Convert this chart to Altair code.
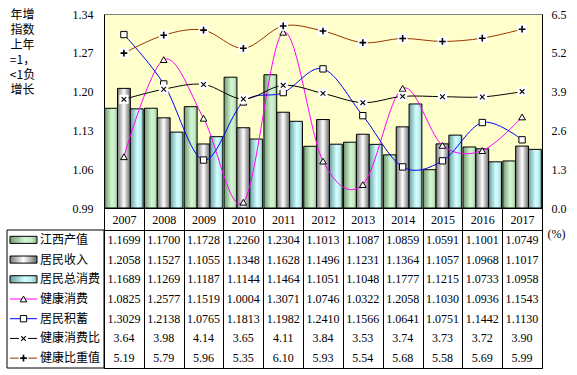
import altair as alt
import pandas as pd

# ---------------- data ----------------
years = ["2007", "2008", "2009", "2010", "2011", "2012", "2013", "2014", "2015", "2016", "2017"]
jiangxi_output = [1.1699, 1.1700, 1.1728, 1.2260, 1.2304, 1.1013, 1.1087, 1.0859, 1.0591, 1.1001, 1.0749]
resident_income = [1.2058, 1.1527, 1.1055, 1.1348, 1.1628, 1.1496, 1.1231, 1.1364, 1.1057, 1.0968, 1.1017]
resident_consumption = [1.1689, 1.1269, 1.1187, 1.1144, 1.1464, 1.1051, 1.1048, 1.1777, 1.1215, 1.0733, 1.0958]
health_consumption = [1.0825, 1.2577, 1.1519, 1.0004, 1.3071, 1.0746, 1.0322, 1.2058, 1.1030, 1.0936, 1.1543]
resident_savings = [1.3029, 1.2138, 1.0765, 1.1813, 1.1982, 1.2410, 1.1566, 1.0641, 1.0751, 1.1442, 1.1130]
health_ratio = [3.64, 3.98, 4.14, 3.65, 4.11, 3.84, 3.53, 3.74, 3.73, 3.72, 3.90]
health_weight = [5.19, 5.79, 5.96, 5.35, 6.10, 5.93, 5.54, 5.68, 5.58, 5.69, 5.99]

series_names = ["江西产值", "居民收入", "居民总消费", "健康消费", "居民积蓄", "健康消费比", "健康比重值"]
decimals = [4, 4, 4, 4, 4, 2, 2]
left_ticks = [0.99, 1.06, 1.13, 1.20, 1.27, 1.34]
right_ticks = [0.0, 1.3, 2.6, 3.9, 5.2, 6.5]
left_title = ["年增", "指数", "上年", "=1，", "<1负", "增长"]
right_title = "(%)"

all_values = [jiangxi_output, resident_income, resident_consumption,
              health_consumption, resident_savings, health_ratio, health_weight]

rows = []
for i, (s, vals, d) in enumerate(zip(series_names, all_values, decimals)):
    for y, v in zip(years, vals):
        rows.append({"year": y, "series": s, "idx": i, "value": v, "label": f"{v:.{d}f}"})
long = pd.DataFrame(rows)
legend_df = pd.DataFrame({"series": series_names, "idx": list(range(len(series_names)))})

# ---------------- styles ----------------
W, H = 438, 194
TH = 138
YEAR_ROW = 22
FONT_NUM = "Liberation Serif"
FONT_CJK = "Noto Sans CJK SC"


def grad(stops):
    return alt.Gradient(gradient="linear", x1=0, x2=1, y1=0, y2=0,
                        stops=[alt.GradientStop(color=c, offset=o) for o, c in stops])


bar_fills = {
    "江西产值": grad([(0, "#6f9c6f"), (0.55, "#d4f5d4"), (0.8, "#c4eac4"), (1, "#88b488")]),
    "居民收入": grad([(0, "#7a7a7a"), (0.5, "#ffffff"), (1, "#6a6a6a")]),
    "居民总消费": grad([(0, "#6a9e9e"), (0.55, "#d2ffff"), (0.8, "#c0eeee"), (1, "#86b8b8")]),
}
line_colors = {"健康消费": "#FF00FF", "居民积蓄": "#0000FF", "健康消费比": "#000000", "健康比重值": "#993300"}
X_PATH = "M-1,-1L1,1M1,-1L-1,1"
PLUS_PATH = "M-1,0L1,0M0,-1L0,1"

# ---------------- top chart ----------------
x_scale = alt.Scale(domain=years, paddingInner=0, paddingOuter=0)
x_axis = alt.Axis(orient="bottom", title=None, tickBand="extent", tickSize=YEAR_ROW, tickColor="black",
                  tickWidth=1, domainColor="black", labelPadding=-11, labelBaseline="middle",
                  labelFont=FONT_NUM, labelFontSize=12, labelColor="black", labelAngle=0, grid=False)
X = alt.X("year:N", scale=x_scale, axis=x_axis)

yl_scale = alt.Scale(domain=[0.99, 1.34], zero=False, nice=False, clamp=True)
yr_scale = alt.Scale(domain=[0, 6.5], zero=False, nice=False)

left_axis = alt.Axis(orient="left", values=left_ticks, format=".2f", ticks=False, domainColor="black",
                     labelPadding=11, labelFont=FONT_NUM, labelFontSize=12, labelColor="black", grid=False,
                     title=left_title, titleAngle=0, titleAlign="center", titleBaseline="top",
                     titleX=-82, titleY=-5, titleFont=FONT_CJK, titleFontSize=12,
                     titleFontWeight="normal", titleLineHeight=15, titleColor="black")
right_axis = alt.Axis(orient="right", values=right_ticks, format=".1f", ticks=False, domainColor="black",
                      labelPadding=9, labelFont=FONT_NUM, labelFontSize=12, labelColor="black",
                      grid=False, title=None)

base = alt.Chart(long)
layers = []
for k, name in enumerate(series_names[:3]):
    layers.append(
        base.transform_filter(alt.datum.series == name)
        .mark_bar(fill=bar_fills[name], stroke="black", strokeWidth=1)
        .encode(x=X,
                xOffset=alt.XOffset("series:N", scale=alt.Scale(domain=series_names[:3], paddingInner=0,
                                                                paddingOuter=0.05)),
                y=alt.Y("value:Q", scale=yl_scale, axis=left_axis if k == 0 else None))
    )

axis_side = {"健康消费": yl_scale, "居民积蓄": yl_scale, "健康消费比": yr_scale, "健康比重值": yr_scale}
for name in series_names[3:]:
    ax = right_axis if name == "健康消费比" else None
    layers.append(
        base.transform_filter(alt.datum.series == name)
        .mark_line(color=line_colors[name], strokeWidth=1, interpolate="cardinal")
        .encode(x=X, y=alt.Y("value:Q", scale=axis_side[name], axis=ax))
    )


def markers(chart, name, xenc=None, yenc=None):
    out = []
    f = chart.transform_filter(alt.datum.series == name)
    if name == "健康消费":
        specs = [dict(shape="triangle-up", filled=True, fill="white", stroke="black", strokeWidth=1, size=45)]
    elif name == "居民积蓄":
        specs = [dict(shape="square", filled=True, fill="white", stroke="black", strokeWidth=1, size=40)]
    elif name == "健康消费比":
        specs = [dict(shape="square", filled=True, fill="white", strokeWidth=0, size=85),
                 dict(shape=X_PATH, filled=False, stroke="black", strokeWidth=1.1, size=22)]
    else:
        specs = [dict(shape="square", filled=True, fill="white", strokeWidth=0, size=95),
                 dict(shape=PLUS_PATH, filled=False, stroke="black", strokeWidth=1.6, size=45)]
    for sp in specs:
        out.append(f.mark_point(opacity=1, **sp).encode(x=xenc, y=yenc))
    return out


for name in series_names[3:]:
    layers += markers(base, name, xenc=X,
                      yenc=alt.Y("value:Q", scale=axis_side[name], axis=None))

top = alt.layer(*layers).resolve_scale(y="independent").properties(
    width=W, height=H, view=alt.ViewBackground(fill="#FFFFCC", stroke="#808080", strokeWidth=1))

# ---------------- table chart ----------------
table_text = alt.Chart(long).mark_text(font=FONT_NUM, fontSize=12, color="black", baseline="middle",
                                       align="center").encode(
    x=alt.X("year:N", bandPosition=0.5, scale=alt.Scale(domain=years, paddingInner=0, paddingOuter=0),
            axis=alt.Axis(orient="top", grid=True, tickBand="extent", gridColor="black", gridWidth=1,
                          gridOpacity=1, labels=False, ticks=False, domain=False, title=None)),
    y=alt.Y("series:N", scale=alt.Scale(domain=series_names, paddingInner=0, paddingOuter=0),
            axis=alt.Axis(orient="right", labels=False, ticks=False, domain=False, grid=False,
                          title=right_title, titleAngle=0, titleX=5, titleY=3, titleAlign="left",
                          titleBaseline="middle", titleFont=FONT_NUM, titleFontSize=12,
                          titleFontWeight="normal", titleColor="black")),
    text="label:N",
)

LX = alt.Scale(domain=[0, 97], range=[-97, 0])
LY = alt.Scale(domain=[0, 7], range=[0, TH])
leg = alt.Chart(legend_df).transform_calculate(
    ymid="datum.idx + 0.5", ytop="datum.idx + 0.32", ybot="datum.idx + 0.68",
    sx0="3", sx1="30", smid="16.5", tx="33")

tlayers = [table_text]
tlayers.append(
    alt.Chart(legend_df).transform_aggregate(n="count()").transform_calculate(z="0", w="97")
    .mark_rect(filled=False, stroke="black", strokeWidth=1)
    .encode(x=alt.X("z:Q", scale=LX, axis=None), x2="w:Q",
            y=alt.Y("z:Q", scale=LY, axis=None), y2="n:Q")
)
for name in series_names[:3]:
    tlayers.append(
        leg.transform_filter(alt.datum.series == name)
        .mark_rect(fill=bar_fills[name], stroke="black", strokeWidth=1)
        .encode(x=alt.X("sx0:Q", scale=LX, axis=None), x2="sx1:Q",
                y=alt.Y("ytop:Q", scale=LY, axis=None), y2="ybot:Q")
    )
for name in series_names[3:]:
    tlayers.append(
        leg.transform_filter(alt.datum.series == name)
        .mark_rule(color=line_colors[name], strokeWidth=1)
        .encode(x=alt.X("sx0:Q", scale=LX, axis=None), x2="sx1:Q",
                y=alt.Y("ymid:Q", scale=LY, axis=None))
    )
    tlayers += markers(leg, name,
                       xenc=alt.X("smid:Q", scale=LX, axis=None),
                       yenc=alt.Y("ymid:Q", scale=LY, axis=None))
tlayers.append(
    leg.mark_text(font=FONT_CJK, fontSize=12, color="black", align="left", baseline="middle")
    .encode(x=alt.X("tx:Q", scale=LX, axis=None), y=alt.Y("ymid:Q", scale=LY, axis=None),
            text="series:N")
)

table = alt.layer(*tlayers).resolve_scale(x="independent", y="independent").properties(
    width=W, height=TH, view=alt.ViewBackground(fill="white", stroke="black", strokeWidth=1))

chart = alt.vconcat(top, table, spacing=YEAR_ROW, bounds="flush").properties(
    padding={"left": 6, "top": 7, "right": 5, "bottom": 5},
    background="white",
)

chart.save("out.html", embed_options={"renderer": "svg", "actions": False})
